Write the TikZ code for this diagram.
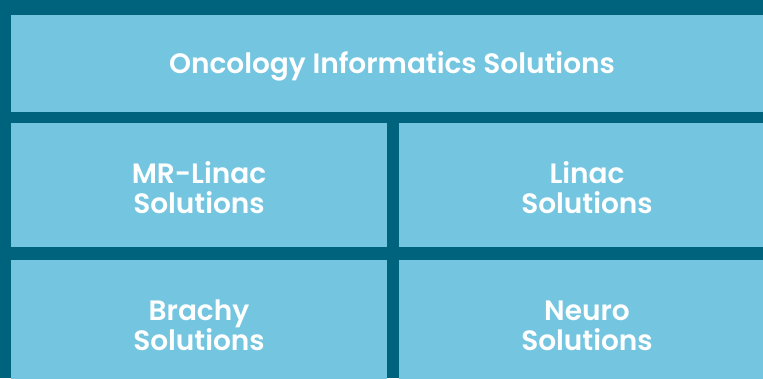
\documentclass[tikz,border=0pt]{standalone}
\usepackage{fontspec}
\setmainfont{Poppins}[BoldFont={Poppins SemiBold}]
\usepackage{xcolor}
\usepackage{tikz}
\usetikzlibrary{shapes,positioning}

\definecolor{darkteal}{RGB}{0,99,125}
\definecolor{paleblue}{RGB}{116,198,224}

\begin{document}
\begin{tikzpicture}[x=1pt, y=-1pt,
  tile/.style={rectangle, fill=paleblue, inner sep=0pt},
  caption/.style={text=white, align=center, yshift=-2.5pt,
    font=\fontsize{28}{30}\selectfont\bfseries}]
\useasboundingbox (0,0) rectangle (763,378);
\fill [darkteal] (0,0) rectangle (763,378);

\node (informatics) [tile, minimum width=762pt, minimum height=97pt,
  label={[caption]center:Oncology Informatics Solutions}] at (392,63.5) {};
\node (mrlinac) [tile, minimum width=376pt, minimum height=124pt,
  label={[caption]center:{MR-Linac\\Solutions}}] at (199,185) {};
\node (linac) [tile, minimum width=376pt, minimum height=124pt,
  label={[caption]center:{Linac\\Solutions}}] at (587,185) {};
\node (brachy) [tile, minimum width=376pt, minimum height=126pt,
  label={[caption]center:{Brachy\\Solutions}}] at (199,323) {};
\node (neuro) [tile, minimum width=376pt, minimum height=126pt,
  label={[caption]center:{Neuro\\Solutions}}] at (587,323) {};
\end{tikzpicture}
\end{document}
